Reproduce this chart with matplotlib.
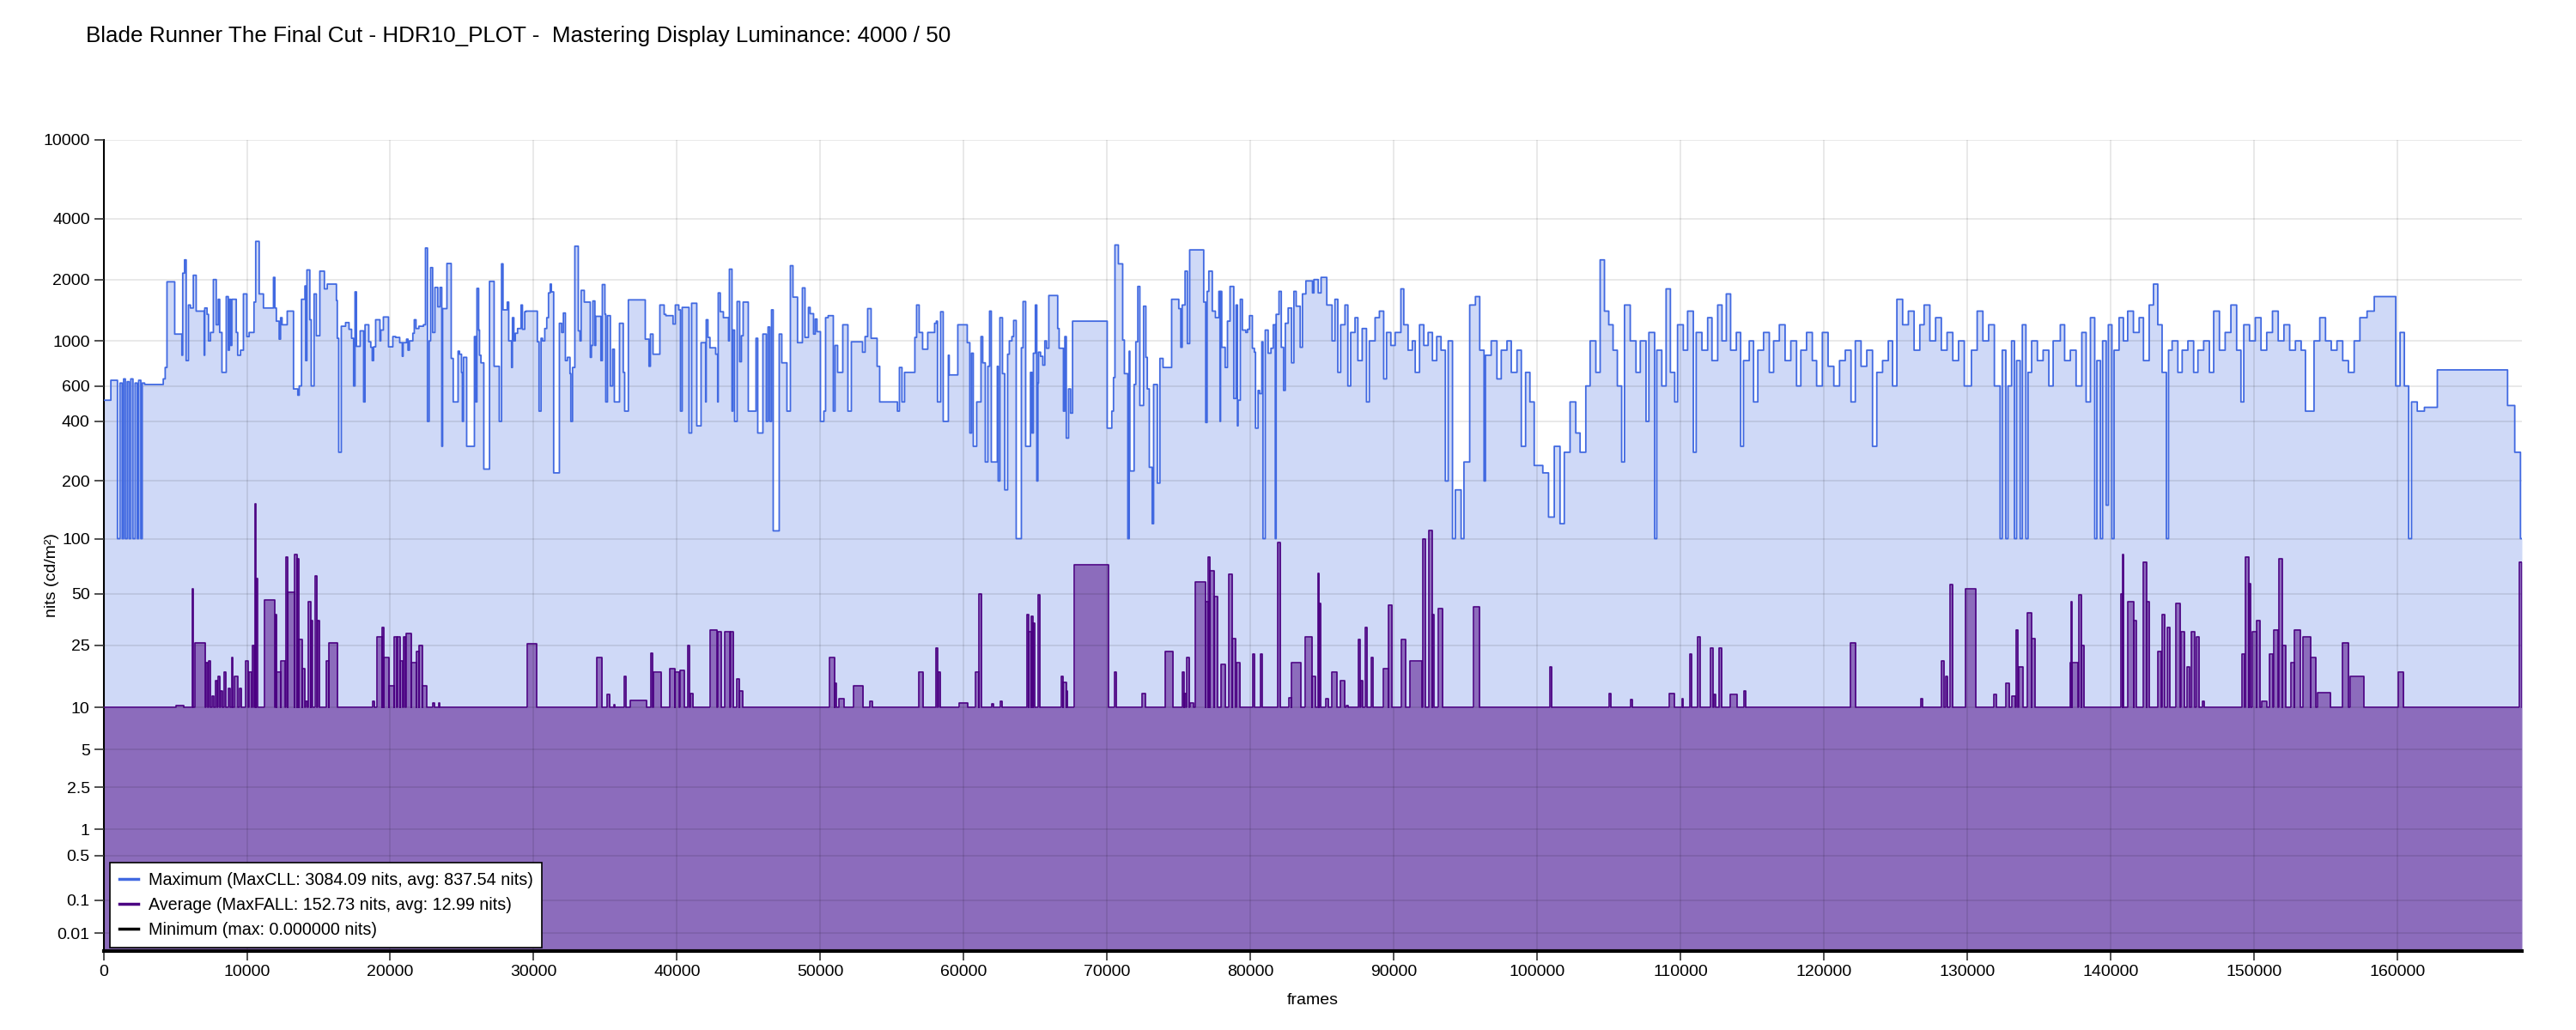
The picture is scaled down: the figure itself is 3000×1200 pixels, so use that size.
import numpy as np
import matplotlib
matplotlib.use("Agg")
import matplotlib.pyplot as plt
from matplotlib.lines import Line2D

plt.rcParams['font.family'] = ['Liberation Sans', 'DejaVu Sans']

TITLE = "Blade Runner The Final Cut - HDR10_PLOT -  Mastering Display Luminance: 4000 / 50"
TOTAL_FRAMES = 168700

# ---- Maximum (MaxCLL) per-frame series: step breakpoints (frame, nits) ----
max_frames = [
    0, 510, 970, 1150, 1300, 1400, 1520, 1650, 1780, 1900, 2050, 2200, 2350, 2450, 2600, 2700, 2866,
    4165, 4300, 4424, 4963, 5463, 5523, 5650, 5762, 5922, 6062, 6262, 6461, 7020, 7060, 7220, 7320,
    7460, 7660, 7859, 8000, 8100, 8259, 8558, 8700, 8780, 8858, 8950, 9257, 9357, 9557, 9757, 9996,
    10156, 10495, 10615, 10855, 11154, 11853, 11950, 12053, 12250, 12350, 12452, 12812, 13251, 13551,
    13650, 13810, 14048, 14100, 14187, 14387, 14487, 14687, 14846, 15086, 15405, 15605, 16244, 16304,
    16404, 16584, 16883, 17123, 17303, 17442, 17542, 17642, 17902, 18141, 18241, 18501, 18641, 18741,
    18840, 18980, 19280, 19340, 19519, 19879, 20179, 20378, 20658, 20838, 20897, 21137, 21237, 21337,
    21576, 21676, 21796, 21996, 22315, 22455, 22595, 22714, 22814, 22954, 23114, 23314, 23474, 23593,
    23653, 23953, 24252, 24392, 24731, 24831, 24971, 25031, 25111, 25330, 25870, 25967, 26047, 26166,
    26226, 26326, 26526, 26925, 27245, 27604, 27764, 27864, 28163, 28263, 28463, 28523, 28623, 28723,
    28882, 29122, 29222, 29382, 29461, 30260, 30380, 30520, 30620, 30779, 30919, 31039, 31159, 31239,
    31398, 31798, 31958, 32077, 32217, 32357, 32537, 32597, 32717, 32876, 33116, 33236, 33316, 33535,
    33955, 34035, 34135, 34274, 34334, 34694, 34794, 34973, 35033, 35153, 35353, 35512, 35632, 35992,
    36251, 36351, 36611, 37789, 38049, 38149, 38328, 38807, 39107, 39227, 39726, 39886, 40126, 40245,
    40365, 40842, 41022, 41382, 41681, 42001, 42041, 42160, 42300, 42700, 42839, 42879, 43019, 43239,
    43598, 43658, 43838, 43898, 44018, 44197, 44377, 44497, 44617, 44976, 45515, 45635, 45995, 46234,
    46354, 46474, 46594, 46714, 47133, 47313, 47672, 47912, 48091, 48411, 48750, 48930, 49170, 49290,
    49529, 49649, 49769, 50009, 50248, 50368, 50548, 50907, 51027, 51207, 51566, 51926, 52165, 52944,
    53124, 53303, 53543, 53962, 54142, 55380, 55517, 55697, 55877, 56596, 56716, 56895, 57135, 57494,
    57974, 58094, 58174, 58393, 58573, 58932, 58992, 59591, 60250, 60430, 60550, 60670, 60909, 61209,
    61329, 61508, 61688, 61808, 61928, 62347, 62407, 62527, 62707, 62866, 63066, 63186, 63366, 63486,
    63665, 64025, 64144, 64324, 64662, 64762, 64862, 65002, 65101, 65181, 65221, 65361, 65521, 65661,
    65780, 65940, 66559, 66659, 66959, 67059, 67159, 67318, 67458, 67598, 70014, 70334, 70453, 70553,
    70792, 71092, 71212, 71451, 71551, 71591, 71891, 72010, 72150, 72290, 72550, 72710, 72810, 72950,
    73150, 73250, 73510, 73690, 73908, 74507, 75006, 75146, 75246, 75445, 75605, 75765, 76744, 76884,
    76984, 77103, 77343, 77562, 77802, 77882, 77922, 78002, 78242, 78402, 78582, 78841, 79001, 79101,
    79141, 79300, 79440, 79680, 79800, 79940, 80139, 80279, 80359, 80539, 80638, 80798, 80878, 81038,
    81238, 81438, 81598, 81738, 81798, 81998, 82157, 82317, 82437, 82636, 82876, 83036, 83195, 83475,
    83634, 83874, 84333, 84433, 84733, 84932,
    85331, 85700, 85900, 86100, 86300, 86600, 86800, 87000, 87300, 87500, 87800, 88100, 88300, 88700,
    89000, 89300, 89500, 89800, 90100, 90500, 90700, 91000, 91300, 91500, 91800, 92100, 92400, 92700,
    93000, 93300, 93600, 93800, 94100, 94300, 94700, 94900, 95300, 95700, 96000, 96300, 96400, 96800,
    97200, 97500, 97900, 98200, 98600, 98900, 99200, 99500, 99800, 100400, 100800, 101200, 101600,
    101900, 102300, 102700, 103000, 103400, 103700, 104100, 104400, 104700, 105000, 105300, 105600,
    105900, 106100, 106500, 106900, 107200, 107600, 107800, 108200, 108350, 108700, 109000, 109300,
    109600, 109800, 110200, 110500, 110900, 111100, 111500, 111900, 112200, 112600, 112900, 113200,
    113500, 113900, 114200, 114400, 114800, 115100, 115400, 115800, 116200, 116500, 116900, 117300,
    117700, 118100, 118400, 118800, 119200, 119500, 119900, 120300, 120700, 121100, 121500, 121900,
    122200, 122600, 123000, 123400, 123700, 124100, 124500, 124800, 125100, 125500, 125900, 126300,
    126700, 127000, 127400, 127800, 128200, 128600, 129000, 129400, 129800, 130300, 130700, 131100,
    131500, 131900, 132300, 132450, 132700, 132850, 133100, 133300, 133450, 133700, 133850, 134100,
    134250, 134500, 134900, 135300, 135700, 136000, 136500, 136800, 137200, 137600, 138000, 138300,
    138600, 138900, 139050, 139300, 139450, 139700, 139850, 140100, 140250, 140600, 140900, 141200,
    141600, 142000, 142300, 142700, 143000, 143300, 143600, 143900, 144050, 144300, 144700, 145000,
    145400, 145800, 146100, 146500, 146900, 147200, 147600, 148000, 148400, 148800, 149100, 149300,
    149700, 150100, 150500, 150900, 151300, 151700, 152100, 152500, 152900, 153300, 153600, 154200,
    154600, 155000, 155400, 155800, 156200, 156600, 157000, 157400, 157900, 158400, 159900, 160200,
    160500, 160800, 161000, 161400, 161900, 162800, 167700, 168200, 168600,
]
max_nits = [
    510, 640, 100, 620, 100, 650, 100, 630, 100, 650, 100, 620, 100, 640, 100, 620, 610,
    650, 740, 1950, 1080, 850, 2150, 2500, 800, 1500, 1450, 2100, 1400, 850, 1450, 1350, 1000,
    1100, 2000, 1200, 1600, 1100, 700, 1650, 900, 1600, 950, 1600, 1100, 850, 900, 1700, 1050,
    1100, 1550, 3084.09, 1700, 1450, 2050, 1450, 1250, 1020, 1300, 1200, 1400, 580, 540,
    600, 1600, 1860, 800, 2230, 1270, 600, 1700, 1060, 2200, 1800, 1900, 1580, 1030,
    280, 1180, 1230, 1140, 1030, 600, 1740, 940, 1120, 500, 1200, 990, 930, 800,
    935, 1270, 1000, 1130, 1310, 935, 1050, 1040, 980, 840, 980, 1020, 900, 1000,
    1090, 1270, 1150, 1180, 1200, 2860, 400, 1000, 2290, 1100, 1830, 1470, 1830, 300,
    1440, 2400, 820, 500, 890, 860, 700, 400, 830, 300, 1050, 500, 1810, 1130,
    850, 780, 230, 1960, 750, 400, 2390, 1420, 1550, 1000, 740, 1300, 1000, 1090,
    1150, 1500, 1140, 1390, 1400, 990, 450, 1030, 1000, 1150, 1300, 1720, 1900, 1740,
    220, 1220, 1100, 1370, 800, 830, 690, 400, 740, 2920, 1120, 1000, 1770, 1550,
    830, 950, 1570, 950, 1320, 800, 1890, 1350, 500, 1330, 600, 910, 500, 1220,
    700, 450, 1590, 1020, 750, 1080, 860, 1500, 1350, 1330, 1210, 1500, 1420, 450,
    1460, 350, 1530, 380, 980, 500, 1270, 1040, 925, 860, 500, 1720, 1390, 1300,
    1000, 2250, 450, 1130, 400, 1560, 790, 1060, 1550, 450, 1030, 350, 1080, 400,
    1170, 400, 1420, 110, 1080, 780, 450, 2340, 1640, 980, 1820, 1040, 1460, 1360,
    1080, 1280, 1110, 400, 450, 1300, 1330, 450, 950, 700, 1200, 450, 990, 880,
    1050, 1440, 1030, 750, 500, 450, 740, 500, 700, 1040, 1500, 1100, 910, 1100,
    1220, 1250, 500, 1390, 400, 850, 680, 1200, 980, 350, 870, 300, 500, 1050,
    780, 250, 750, 1400, 250, 750, 200, 1300, 690, 180, 860, 1000, 1050, 1260,
    100, 925, 1560, 300, 700, 350, 870, 1500, 200, 620, 880, 840, 760, 1000,
    920, 1670, 1150, 920, 450, 1050, 330, 580, 440, 1250, 370, 450, 660, 2960,
    2390, 1010, 690, 100, 890, 225, 610, 990, 1850, 480, 1480, 830, 580, 235,
    120, 610, 195, 820, 740, 1600, 1440, 930, 1500, 2200, 970, 2800, 1550, 395,
    1750, 2200, 1400, 1300, 1750, 400, 1750, 930, 740, 1250, 1850, 520, 1500, 380,
    510, 1600, 1130, 1100, 1140, 1330, 920, 880, 370, 570, 550, 990, 100, 1130,
    870, 920, 1200, 100, 1350, 1750, 930, 570, 1220, 1450, 780, 1750, 1480, 930,
    1700, 1970, 1720, 2000, 1720, 2050,
    1500, 1000, 1600, 700, 1200, 1500, 600, 1100, 1300, 800, 1150, 500, 1000, 1300,
    1400, 650, 1100, 950, 1100, 1800, 1200, 900, 1000, 700, 1200, 950, 1100, 800,
    1050, 900, 200, 1000, 100, 180, 100, 250, 1500, 1650, 900, 200, 850, 1000,
    650, 900, 1000, 700, 900, 300, 700, 500, 240, 220, 130, 300, 120,
    280, 500, 350, 280, 600, 1000, 700, 2500, 1400, 1200, 900, 600,
    250, 1500, 1000, 700, 1000, 400, 1100, 100, 900, 600, 1800, 700,
    500, 1200, 900, 1400, 280, 1100, 900, 1300, 800, 1500, 1000, 1700,
    900, 1100, 300, 800, 1000, 500, 900, 1100, 700, 1000, 1200, 800,
    1000, 600, 900, 1100, 800, 600, 1100, 750, 600, 800, 900, 500,
    1000, 750, 900, 300, 700, 800, 1000, 600, 1600, 1200, 1400, 900,
    1200, 1500, 1000, 1300, 900, 1100, 800, 1000, 600, 900, 1400, 1000,
    1200, 600, 100, 900, 100, 600, 1000, 100, 800, 100, 1200, 100,
    700, 1000, 800, 900, 600, 1000, 1200, 800, 900, 600, 1100, 500,
    1300, 100, 800, 100, 1000, 150, 1200, 100, 900, 1300, 1000, 1400,
    1100, 1300, 800, 1500, 1900, 1200, 700, 100, 900, 1000, 700, 900,
    1000, 700, 900, 1000, 700, 1400, 900, 1100, 1500, 900, 500, 1200,
    1000, 1300, 900, 1100, 1400, 1000, 1200, 900, 1000, 900, 450, 1000,
    1300, 1000, 900, 1000, 800, 700, 1000, 1300, 1400, 1650, 600, 1100,
    600, 100, 500, 450, 470, 720, 480, 280, 100,
]

# ---- Average (MaxFALL) series: spikes above the 10-nit floor ----
avg_floor = 10
avg_start = [
    5040, 6190, 6360, 7160, 7330, 7560, 7790, 8020, 8190, 8420, 8710, 8940, 9110, 9510, 9910, 10140,
    10370, 10540, 10600, 11230, 11980, 12090, 12380, 12720, 12840, 13350, 13520, 13640, 13870, 14100,
    14270, 14440, 14780, 14960, 15530, 15700, 18790, 19080, 19420, 19540, 19940, 20280, 20510, 20690,
    20910, 21090, 21490, 21830, 22000, 22230, 22980, 23380, 29570, 34380, 35120, 35600, 36330, 36730,
    38160, 38330, 39480, 39880, 40220, 40740, 40910, 42340, 42860, 43320, 43780, 44180, 44350, 50650,
    51000, 51280, 52310, 53460, 56840, 58040, 58270, 59710, 60850, 61080, 61950, 62580, 64400, 64520,
    64690, 64810, 65210, 66810, 66920, 67150, 67730, 70540, 72430, 74030, 75240, 75400, 75580, 75810,
    76150, 76900, 77070, 77180, 77470, 77930, 78500, 78730, 79020, 80160, 80680, 81880, 82700, 82870,
    83850, 84300, 84700, 84810, 85280, 85680, 86250, 86710, 87510, 87740, 88030, 88430, 89290, 89630,
    90550, 91120, 92040, 92440, 92670, 93130, 95590, 100920, 105050, 106540, 109230, 110090, 110660,
    111180, 112100, 112330, 112670, 113470, 114440, 121840, 126760, 128200, 128530, 128830, 129860,
    131860, 132720, 133120, 133410, 133580, 134210, 134500, 137190, 137240, 137300, 137820, 137990,
    140750, 140860, 141200, 141600, 142290, 142520, 143290, 143610, 143950, 144580, 144930, 145330,
    145620, 146020, 146420, 149170, 149400, 149630, 149910, 150200, 150540, 151060, 151410, 151750,
    151980, 152610, 152840, 153410, 153980, 154440, 156160, 156730, 160060, 168550,
]
avg_end = [
    5620, 6250, 7100, 7280, 7450, 7680, 7910, 8140, 8310, 8540, 8820, 9000, 9340, 9630, 10080, 10310,
    10490, 10600, 10720, 11920, 12090, 12380, 12660, 12840, 13350, 13520, 13640, 13870, 14040, 14210,
    14440, 14550, 14900, 15070, 15700, 16330, 18910, 19420, 19540, 19940, 20280, 20460, 20690, 20860,
    21030, 21490, 21830, 22000, 22230, 22520, 23090, 23440, 30200, 34780, 35300, 35660, 36440, 37880,
    38280, 38910, 39880, 40170, 40510, 40850, 41140, 42800, 43090, 43720, 43950, 44350, 44580, 51000,
    51100, 51630, 53000, 53630, 57190, 58160, 58390, 60280, 61080, 61250, 62060, 62690, 64520, 64690,
    64810, 64980, 65330, 66920, 67150, 67260, 70080, 70650, 72660, 74600, 75350, 75520, 75750, 76030,
    76900, 77070, 77180, 77470, 77700, 78270, 78730, 78960, 79300, 80280, 80800, 82110, 82870, 83500,
    84300, 84530, 84810, 84930, 85450, 86020, 86600, 86830, 87630, 87860, 88140, 88540, 89630, 89860,
    90840, 91980, 92210, 92670, 92780, 93420, 95990, 101040, 105160, 106650, 109570, 110200, 110780,
    111350, 112270, 112440, 112900, 113930, 114560, 122240, 126880, 128370, 128650, 129000, 130600,
    132030, 132950, 133350, 133520, 133870, 134500, 134730, 137240, 137300, 137710, 137990, 138160,
    140860, 140920, 141600, 141780, 142520, 142700, 143520, 143780, 144120, 144870, 145160, 145500,
    145850, 146190, 146530, 149340, 149630, 149800, 150200, 150430, 150890, 151350, 151700, 151980,
    152210, 152840, 153230, 153980, 154330, 155360, 156620, 157650, 160460, 168700,
]
avg_nits = [
    10.4, 53, 26, 19.5, 20, 12, 15, 16, 13, 17, 13.5, 21, 16, 13.5, 20, 17,
    25, 152.73, 61, 46, 38, 17, 20, 80, 51, 82, 78, 27, 18, 11,
    45, 35, 63, 35, 20, 26, 11, 28, 32, 21, 14, 28, 28, 20,
    28, 29.5, 19.5, 23, 25, 14, 10.7, 10.8, 25.6, 21, 12.2, 10.5, 16, 11.2,
    22.5, 17, 18, 17, 17.5, 25, 12.5, 31, 30, 30, 30, 15.5, 13, 21,
    14.5, 11.5, 14, 11, 17, 24, 17, 10.8, 17, 50, 10.6, 11.1, 38, 30,
    37, 34, 49, 16, 14.7, 13, 72, 17, 12.5, 23, 17, 12.4, 21, 10.7,
    58, 45, 80, 67, 48, 19, 64, 27.5, 19.5, 22, 22, 95, 11.6, 19.5,
    28, 16, 65, 44, 11.5, 17, 15, 10.4, 27, 15, 32, 21, 18, 43,
    27, 20, 100, 110, 38, 41, 42, 18.5, 12.5, 11.3, 12.5, 11.5, 22,
    28, 24, 12.2, 24, 12.2, 13, 26, 11.5, 20, 16, 56, 53,
    12.2, 14.5, 12, 31, 18.5, 39, 27.5, 19.5, 45, 19.5, 49, 25,
    50, 82, 45, 35, 75, 45, 23, 38, 32, 44, 30, 18.5,
    30, 28, 11, 22, 80, 57, 30, 35, 11, 22, 31, 78,
    25, 19.5, 31, 28, 21, 12.6, 26, 16, 17, 75,
]

# ---- Minimum series ----
min_frames = [0, TOTAL_FRAMES]
min_nits = [0.0, 0.0]

y_ticks = [0.01, 0.1, 0.5, 1, 2.5, 5, 10, 25, 50, 100, 200, 400, 600, 1000, 2000, 4000, 10000]
y_tick_labels = ["0.01", "0.1", "0.5", "1", "2.5", "5", "10", "25", "50", "100", "200", "400",
                 "600", "1000", "2000", "4000", "10000"]
x_ticks = list(range(0, 160001, 10000))

legend_labels = [
    "Maximum (MaxCLL: 3084.09 nits, avg: 837.54 nits)",
    "Average (MaxFALL: 152.73 nits, avg: 12.99 nits)",
    "Minimum (max: 0.000000 nits)",
]

# ---- PQ (SMPTE ST 2084) axis scale ----
M1 = 2610 / 16384
M2 = 2523 / 4096 * 128
C1 = 3424 / 4096
C2 = 2413 / 4096 * 32
C3 = 2392 / 4096 * 32


def pq_forward(L):
    L = np.asarray(L, dtype=float)
    Y = np.clip(L / 10000.0, 0, None)
    Ym = Y ** M1
    return ((C1 + C2 * Ym) / (1 + C3 * Ym)) ** M2


def pq_inverse(V):
    V = np.clip(np.asarray(V, dtype=float), 0, 1.0)
    Vp = V ** (1 / M2)
    num = np.clip(Vp - C1, 0, None)
    den = np.clip(C2 - C3 * Vp, 1e-9, None)
    return 10000.0 * (num / den) ** (1 / M1)


def step_series(frames, vals, end):
    x = np.append(np.asarray(frames, float), end)
    y = np.append(np.asarray(vals, float), vals[-1])
    return x, y


mx, my = step_series(max_frames, max_nits, TOTAL_FRAMES)

ax_x = [0.0]
ax_y = [avg_floor]
for s, e, v in zip(avg_start, avg_end, avg_nits):
    ax_x += [s, e]
    ax_y += [v, avg_floor]
ax_x.append(TOTAL_FRAMES)
ax_y.append(ax_y[-1])
ax_x = np.array(ax_x)
ax_y = np.array(ax_y)

mnx, mny = step_series(min_frames[:-1], min_nits[:-1], TOTAL_FRAMES)

fig = plt.figure(figsize=(30, 12), dpi=100)
ax = fig.add_axes([0.0402, 0.0769, 0.9388, 0.7876])
ax.set_yscale('function', functions=(pq_forward, pq_inverse))

BLUE = '#4169e1'
INDIGO = '#4b0082'

ax.fill_between(mx, my, 0, step='post', color=BLUE, alpha=0.25, lw=0, zorder=1)
ax.step(mx, my, where='post', color=BLUE, lw=1.3, zorder=3)
ax.fill_between(ax_x, ax_y, 0, step='post', color=INDIGO, alpha=0.5, lw=0, zorder=1.2)
ax.step(ax_x, ax_y, where='post', color=INDIGO, lw=1.2, zorder=3.1)
ax.step(mnx, mny, where='post', color='black', lw=3, zorder=3.2, clip_on=False)

ax.set_xlim(0, TOTAL_FRAMES)
ax.set_ylim(0, 10000)
ax.set_yticks(y_ticks)
ax.set_yticklabels(y_tick_labels)
ax.yaxis.set_minor_locator(matplotlib.ticker.NullLocator())
ax.set_xticks(x_ticks)
ax.set_xticklabels([str(t) for t in x_ticks])

ax.set_axisbelow(False)
ax.grid(True, color='black', alpha=0.1, lw=1.2)
for side in ('top', 'right'):
    ax.spines[side].set_visible(False)
for side in ('left', 'bottom'):
    ax.spines[side].set_color('black')
    ax.spines[side].set_linewidth(1.5)
ax.tick_params(axis='both', labelsize=14, length=8, width=1.2, color='#333333', direction='out')

ax.set_ylabel("nits (cd/m²)", fontsize=14)
ax.yaxis.set_label_coords(-0.0183, 0.463)
ax.set_xlabel("frames", fontsize=14)
ax.xaxis.set_label_coords(0.5, -0.052)

fig.text(100 / 3000, 1 - 42 / 1200, TITLE, fontsize=18.7, ha='left', va='center')

handles = [Line2D([], [], color=BLUE, lw=2.5),
           Line2D([], [], color=INDIGO, lw=2.5),
           Line2D([], [], color='black', lw=2.5)]
leg = ax.legend(handles, legend_labels, loc='lower left', bbox_to_anchor=(0.002, 0.002),
                fontsize=14.2, frameon=True, fancybox=False, edgecolor='black',
                framealpha=1.0, handlelength=1.1, handletextpad=0.6, labelspacing=0.5,
                borderpad=0.55, borderaxespad=0.1)
leg.get_frame().set_linewidth(1.2)
leg.set_zorder(10)

fig.savefig('out.png', dpi=100, facecolor='white')
